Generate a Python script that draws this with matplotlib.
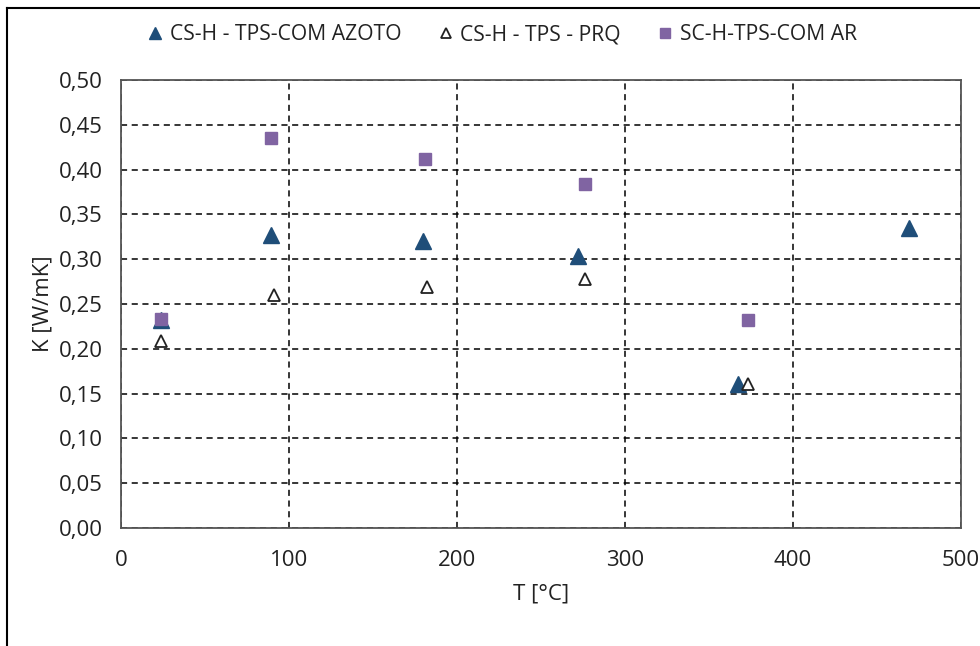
import matplotlib
matplotlib.use("Agg")
import matplotlib.pyplot as plt
from matplotlib.lines import Line2D
from matplotlib.ticker import FuncFormatter

# Data
t_azoto = [24, 89, 180, 272, 367, 469]
k_azoto = [0.232, 0.327, 0.320, 0.304, 0.161, 0.335]

t_prq = [24, 91, 182, 276, 373]
k_prq = [0.209, 0.260, 0.269, 0.278, 0.161]

t_ar = [24, 89, 181, 276, 373]
k_ar = [0.233, 0.435, 0.412, 0.384, 0.232]

labels = ["CS-H - TPS-COM AZOTO", "CS-H - TPS - PRQ", "SC-H-TPS-COM AR"]

plt.rcParams['font.family'] = ['Open Sans', 'DejaVu Sans']

fig = plt.figure(figsize=(9.8, 6.46), dpi=100)
ax = fig.add_axes([121 / 980, 118 / 646, 840 / 980, 448 / 646])

ax.plot(t_azoto, k_azoto, linestyle='none', marker='^', markersize=11,
        color='#1F4E79', label=labels[0], zorder=3)
ax.plot(t_prq, k_prq, linestyle='none', marker='^', markersize=8.5,
        markerfacecolor='white', markeredgecolor='#222222', markeredgewidth=1.3,
        label=labels[1], zorder=4)
ax.plot(t_ar, k_ar, linestyle='none', marker='s', markersize=8.5,
        color='#8064A2', label=labels[2], zorder=5)

ax.set_xlim(0, 500)
ax.set_ylim(0, 0.5)
ax.set_xticks(range(0, 501, 100))
ax.set_yticks([i * 0.05 for i in range(11)])
ax.yaxis.set_major_formatter(FuncFormatter(lambda v, p: f"{v:.2f}".replace(".", ",")))

ax.grid(True, color='black', linestyle=(0, (4, 3)), linewidth=1.1)
ax.tick_params(length=0, labelsize=16, colors='#222222')
ax.tick_params(axis='y', pad=13)
ax.tick_params(axis='x', pad=16)
for s in ax.spines.values():
    s.set_color('#555555')
    s.set_linewidth(1.3)

ax.set_xlabel("T [°C]", fontsize=16, color='#222222', labelpad=9)
ax.set_ylabel("K [W/mK]", fontsize=16, color='#222222', labelpad=4)

fig.legend(loc='center', bbox_to_anchor=(0.512, 1 - 35 / 646), ncol=3, frameon=False,
           fontsize=15.2, handlelength=0.8, handletextpad=0.3, columnspacing=1.7,
           markerscale=0.8, labelcolor='#222222')

# outer frame lines (left and top)
fig.add_artist(Line2D([7 / 980, 7 / 980], [0, 1 - 8 / 646], transform=fig.transFigure,
                      color='black', linewidth=1.5))
fig.add_artist(Line2D([7 / 980, 1], [1 - 8 / 646, 1 - 8 / 646], transform=fig.transFigure,
                      color='black', linewidth=1.5))

fig.savefig("out.png", dpi=100)
